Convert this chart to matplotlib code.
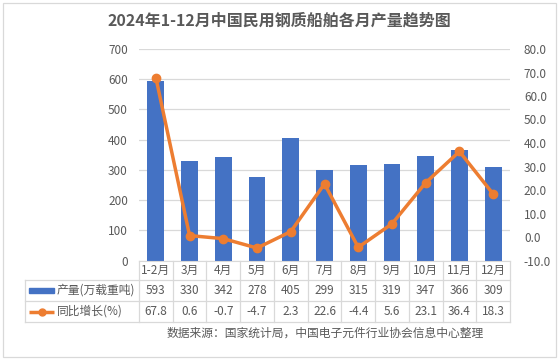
import matplotlib.pyplot as plt
from matplotlib.patches import Rectangle
from matplotlib.lines import Line2D
from matplotlib.transforms import blended_transform_factory

plt.rcParams['font.family'] = ['Noto Sans CJK SC', 'DejaVu Sans']

months = ['1-2月', '3月', '4月', '5月', '6月', '7月', '8月', '9月', '10月', '11月', '12月']
output = [593, 330, 342, 278, 405, 299, 315, 319, 347, 366, 309]
growth = [67.8, 0.6, -0.7, -4.7, 2.3, 22.6, -4.4, 5.6, 23.1, 36.4, 18.3]

W, H = 559, 362
fig = plt.figure(figsize=(W / 100, H / 100), dpi=100)
txt = '#595959'
grid = '#D9D9D9'
blue = '#4472C4'
orange = '#ED7D31'

def fy(p):
    return 1 - p / H

def fx(p):
    return p / W

left, right, top, bottom = 139, 510, 49, 260.5
ax = fig.add_axes([fx(left), fy(bottom), fx(right - left), fy(top) - fy(bottom)])
x = list(range(len(months)))
ax.bar(x, output, width=0.5, color=blue, zorder=2)
ax.set_xlim(-0.5, len(months) - 0.5)
ax.set_ylim(0, 700)
ax.set_yticks(range(0, 701, 100))
ax.grid(axis='y', color=grid, linewidth=0.9, zorder=0)
ax.set_xticks([])
for s in ['top', 'right', 'left']:
    ax.spines[s].set_visible(False)
ax.spines['bottom'].set_color(grid)
ax.tick_params(axis='y', length=0, labelsize=8.5, labelcolor=txt, pad=8)

ax2 = ax.twinx()
ax2.plot(x, growth, color=orange, linewidth=2.5, marker='o', markersize=6, zorder=3)
ax2.set_ylim(-10, 80)
ax2.set_yticks(range(-10, 81, 10))
ax2.set_yticklabels(['%.1f' % v for v in range(-10, 81, 10)])
for s in ['top', 'right', 'left', 'bottom']:
    ax2.spines[s].set_visible(False)
ax2.tick_params(axis='y', length=0, labelsize=8.5, labelcolor=txt, pad=10)

fig.text(0.5, fy(21), '2024年1-12月中国民用钢质船舶各月产量趋势图', ha='center', va='center',
         fontsize=11.5, fontweight='bold', color=txt)

# data table under the chart
tr = blended_transform_factory(ax.transData, fig.transFigure)
rows = [260.5, 280, 301, 322]
tleft = 25
for i in range(len(months) + 1):
    fig.add_artist(Line2D([fx(left + i * (right - left) / len(months))] * 2, [fy(rows[0]), fy(rows[3])],
                          color=grid, linewidth=0.9))
for r in rows[1:]:
    fig.add_artist(Line2D([fx(tleft), fx(right)], [fy(r), fy(r)], color=grid, linewidth=0.9))
fig.add_artist(Line2D([fx(tleft), fx(tleft)], [fy(rows[1]), fy(rows[3])], color=grid, linewidth=0.9))

for i, m in enumerate(months):
    fig.text(i, fy((rows[0] + rows[1]) / 2), m, transform=tr, ha='center', va='center', fontsize=8.5, color=txt)
    fig.text(i, fy((rows[1] + rows[2]) / 2), str(output[i]), transform=tr, ha='center', va='center',
             fontsize=8.5, color=txt)
    fig.text(i, fy((rows[2] + rows[3]) / 2), '%.1f' % growth[i], transform=tr, ha='center', va='center',
             fontsize=8.5, color=txt)

y1 = (rows[1] + rows[2]) / 2
y2 = (rows[2] + rows[3]) / 2
fig.add_artist(Rectangle((fx(29), fy(y1 + 2.5)), fx(25), 5 / H, color=blue))
fig.add_artist(Line2D([fx(29), fx(54)], [fy(y2), fy(y2)], color=orange, linewidth=2.5,
                      solid_capstyle='butt'))
fig.add_artist(Line2D([fx(41.5)], [fy(y2)], color=orange, marker='o', markersize=5))
fig.text(fx(57), fy(y1), '产量(万载重吨)', ha='left', va='center', fontsize=8.5, color=txt)
fig.text(fx(57), fy(y2), '同比增长(%)', ha='left', va='center', fontsize=8.5, color=txt)

fig.text(fx(325), fy(333), '数据来源：国家统计局，中国电子元件行业协会信息中心整理', ha='center', va='center',
         fontsize=8.5, color=txt)

fig.add_artist(Rectangle((fx(3), fy(357)), fx(553), (354) / H, fill=False, edgecolor=grid, linewidth=0.9))

fig.savefig('out.png', dpi=100)
